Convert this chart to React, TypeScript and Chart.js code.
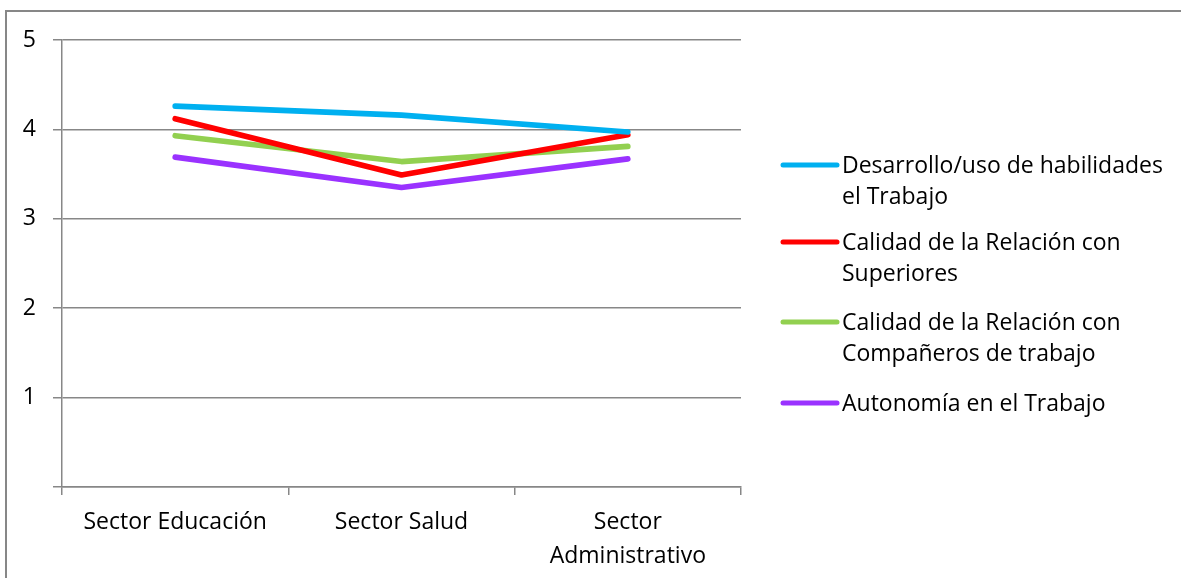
import React, { useEffect, useRef } from "react";
import { Chart, registerables } from "chart.js";

Chart.register(...registerables);

const categories: (string | string[])[] = [
  "Sector Educación",
  "Sector Salud",
  ["Sector", "Administrativo"],
];

const seriesLabels: string[][] = [
  ["Desarrollo/uso de habilidades", "el Trabajo"],
  ["Calidad de la Relación con", "Superiores"],
  ["Calidad de la Relación con", "Compañeros de trabajo"],
  ["Autonomía en el Trabajo"],
];

const desarrollo = [4.26, 4.16, 3.97];
const relacionSuperiores = [4.12, 3.49, 3.94];
const relacionCompaneros = [3.93, 3.64, 3.81];
const autonomia = [3.69, 3.35, 3.67];

const seriesColors = ["#00B0F0", "#FF0000", "#92D050", "#9A32FF"];

const yTicks = [0, 1, 2, 3, 4, 5];

const FONT = "'Open Sans', 'Noto Sans', sans-serif";
const FONT_SIZE = 23;
const GRID = "#878787";

// Legend drawn at the right of the plot, with wrapped multi-line labels
const sideLegend = {
  id: "sideLegend",
  afterDraw(chart: any) {
    const ctx = chart.ctx as CanvasRenderingContext2D;
    const area = chart.chartArea;
    const x0 = area.right + 42;
    const lineLen = 54;
    const lineH = 31.5;
    const entryStarts = [165, 242, 322, 403];
    ctx.save();
    ctx.font = `${FONT_SIZE}px ${FONT}`;
    ctx.textBaseline = "middle";
    ctx.textAlign = "left";
    chart.data.datasets.forEach((ds: any, i: number) => {
      const y = entryStarts[i];
      ctx.strokeStyle = ds.borderColor;
      ctx.lineWidth = 5;
      ctx.lineCap = "round";
      ctx.beginPath();
      ctx.moveTo(x0, y);
      ctx.lineTo(x0 + lineLen, y);
      ctx.stroke();
      ctx.fillStyle = "#000";
      const lines: string[] = Array.isArray(ds.label) ? ds.label : [ds.label];
      lines.forEach((t, k) => ctx.fillText(t, x0 + lineLen + 5, y + 1 + k * lineH));
    });
    ctx.restore();
  },
};

export default function App() {
  const canvasRef = useRef<HTMLCanvasElement | null>(null);

  useEffect(() => {
    if (!canvasRef.current) return;
    const values = [desarrollo, relacionSuperiores, relacionCompaneros, autonomia];
    const chart = new Chart(canvasRef.current, {
      type: "line",
      data: {
        labels: categories as any,
        datasets: values.map((v, i) => ({
          label: seriesLabels[i] as any,
          data: v,
          borderColor: seriesColors[i],
          backgroundColor: seriesColors[i],
          borderWidth: 5.6,
          borderCapStyle: "round",
          borderJoinStyle: "round",
          pointRadius: 0,
          tension: 0,
          fill: false,
        })),
      },
      options: {
        animation: false,
        responsive: false,
        maintainAspectRatio: false,
        layout: { padding: { left: 10, top: 40, right: 440, bottom: 0 } },
        plugins: {
          legend: { display: false },
          tooltip: { enabled: false },
        },
        scales: {
          x: {
            type: "category",
            offset: true,
            grid: {
              offset: true,
              drawOnChartArea: false,
              drawTicks: true,
              tickLength: 8,
              color: GRID,
              lineWidth: 1.5,
            },
            border: { display: true, color: GRID, width: 1.5 },
            ticks: {
              color: "#000",
              font: { family: FONT, size: FONT_SIZE, lineHeight: 1.45 },
              padding: 11,
              maxRotation: 0,
              autoSkip: false,
            },
            afterFit(scale: any) {
              scale.height = 91;
            },
          },
          y: {
            min: 0,
            max: 5,
            afterBuildTicks(scale: any) {
              scale.ticks = yTicks.map((v) => ({ value: v }));
            },
            grid: {
              color: GRID,
              lineWidth: 1.5,
              drawTicks: true,
              tickLength: 9,
              drawOnChartArea: true,
            },
            border: { display: true, color: GRID, width: 1.5 },
            ticks: {
              color: "#000",
              font: { family: FONT, size: FONT_SIZE },
              padding: 17,
              callback: (v: any) => (Number(v) === 0 ? "" : String(v)),
            },
            afterFit(scale: any) {
              scale.width = 52;
            },
          },
        },
      },
      plugins: [sideLegend],
    });
    return () => chart.destroy();
  }, []);

  return (
    <div
      style={{
        position: "fixed",
        left: 0,
        top: 0,
        width: 1181,
        height: 578,
        overflow: "hidden",
        background: "#fff",
      }}
    >
      <div
        style={{
          position: "absolute",
          left: 5,
          top: 10,
          width: 1400,
          height: 800,
          borderLeft: `2px solid ${GRID}`,
          borderTop: `2px solid ${GRID}`,
        }}
      />
      <canvas
        ref={canvasRef}
        width={1181}
        height={578}
        style={{ position: "absolute", left: 0, top: 0, width: 1181, height: 578 }}
      />
    </div>
  );
}
